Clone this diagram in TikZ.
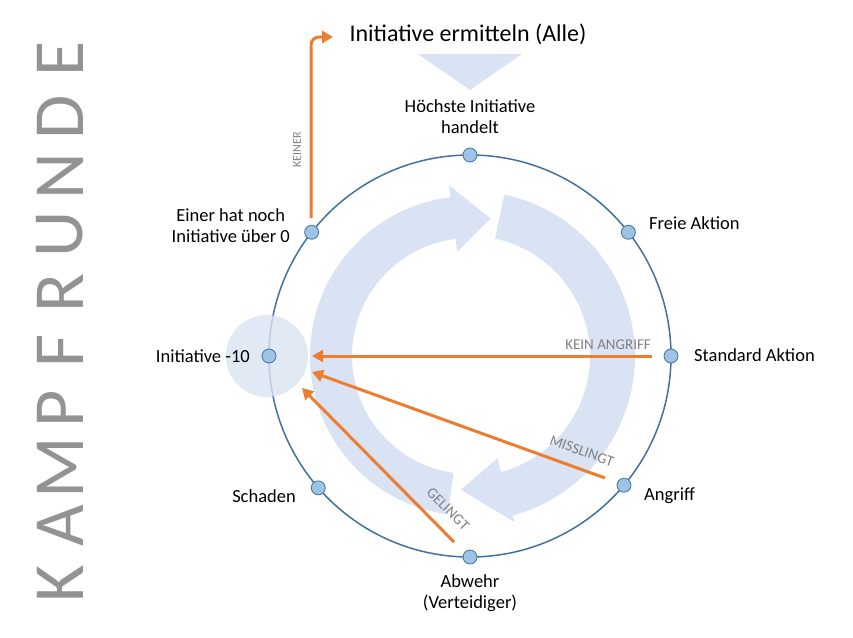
\documentclass[tikz,border=0pt]{standalone}
\usepackage{fontspec}
\setmainfont{Carlito}
\usetikzlibrary{arrows.meta,calc}
\definecolor{ring}{HTML}{41719C}
\definecolor{dotf}{HTML}{9DC3E6}
\definecolor{band}{HTML}{DAE3F3}
\definecolor{org}{HTML}{ED7D31}
\definecolor{lbl}{HTML}{808080}
\tikzset{
 dot/.style={circle,fill=dotf,draw=ring,line width=0.8pt,inner sep=0pt,minimum size=14pt},
 lab/.style={font=\fontsize{18.5}{21}\selectfont,align=center,inner sep=1pt},
 small/.style={font=\fontsize{15}{16}\selectfont,text=lbl,inner sep=1pt},
 oarrow/.style={draw=org,line width=3pt,-{Triangle[length=11pt,width=12pt]}},
}
\begin{document}
\begin{tikzpicture}[x=1pt,y=-1pt]
\useasboundingbox (0,0) rectangle (853,637);
\coordinate (c) at (470,356);
% big band arrows
\fill[band] ($(c)+(98:160)$) arc[start angle=98,end angle=263,radius=160]
  -- ($(c)+(263:172)$) -- ($(c)+(278.5:139)$) -- ($(c)+(263:105)$) -- ($(c)+(263:118)$)
  arc[start angle=263,end angle=98,radius=118] -- cycle;
\fill[band] ($(c)+(-78:165)$) arc[start angle=-78,end angle=75,radius=165]
  -- ($(c)+(75:172)$) -- ($(c)+(94:134)$) -- ($(c)+(75:106)$) -- ($(c)+(75:120)$)
  arc[start angle=75,end angle=-78,radius=120] -- cycle;
\fill[band] (418,54) -- (522,54) -- (470,90) -- cycle;
% ring
\draw[ring,line width=1.5pt] (c) circle[radius=201];
\fill[band,opacity=0.8] (267,356) circle[radius=41];
% dots
\node[dot] (top) at ($(c)+(-90:201)$) {};
\node[dot] (frei) at ($(c)+(-38:201)$) {};
\node[dot] (std) at ($(c)+(0:201)$) {};
\node[dot] (ang) at ($(c)+(40:201)$) {};
\node[dot] (abw) at ($(c)+(90:201)$) {};
\node[dot] (sch) at ($(c)+(139:201)$) {};
\node[dot] (ini) at ($(c)+(180:201)$) {};
\node[dot] (ein) at ($(c)+(218:201)$) {};
% labels
\node[font=\fontsize{24}{28}\selectfont] (title) at (468,34) {Initiative ermitteln (Alle)};
\node[lab] (ltop) at (470,117) {Höchste Initiative\\handelt};
\node[lab,anchor=west] (lfrei) at (648,223) {Freie Aktion};
\node[lab,anchor=west] (lstd) at (693,355) {Standard Aktion};
\node[lab,anchor=west] (lang) at (643,496) {Angriff};
\node[lab] (labw) at (470,593) {Abwehr\\(Verteidiger)};
\node[lab,anchor=east] (lsch) at (297,496) {Schaden};
\node[lab,anchor=east] (lini) at (251,356) {Initiative -10};
\node[lab,anchor=east] (lein) at (291,226) {Einer hat noch\\Initiative über 0};
% orange connectors
\coordinate (s1) at (652,356); \coordinate (e1) at (312,356);
\coordinate (s2) at (605,478); \coordinate (e2) at (312,372);
\coordinate (s3) at (454,542); \coordinate (e3) at (302,388);
\coordinate (s4) at (311,218); \coordinate (e4) at (333,37);
\draw[oarrow] (s1) -- (e1);
\draw[oarrow] (s2) -- (e2);
\draw[oarrow] (s3) -- (e3);
\draw[oarrow,rounded corners=8pt] (s4) -- (311,37) -- (e4);
\node[small,anchor=south east] (k1) at (652,351) {KEIN ANGRIFF};
\node[small,rotate=-19.7] (k2) at (582,451) {MISSLINGT};
\node[small,rotate=-45] (k3) at (448,509) {GELINGT};
\node[small,rotate=90,font=\fontsize{12}{13}\selectfont] (k4) at (297,150) {KEINER};
% big vertical title
\foreach \l [count=\i from 0] in {K,A,M,P,F,R,U,N,D,E}{
  \node[rotate=90,text=lbl!85,font=\fontsize{72}{72}\selectfont] (t\i) at (60,{584-58.3*\i}) {\l};
}
\end{tikzpicture}
\end{document}
